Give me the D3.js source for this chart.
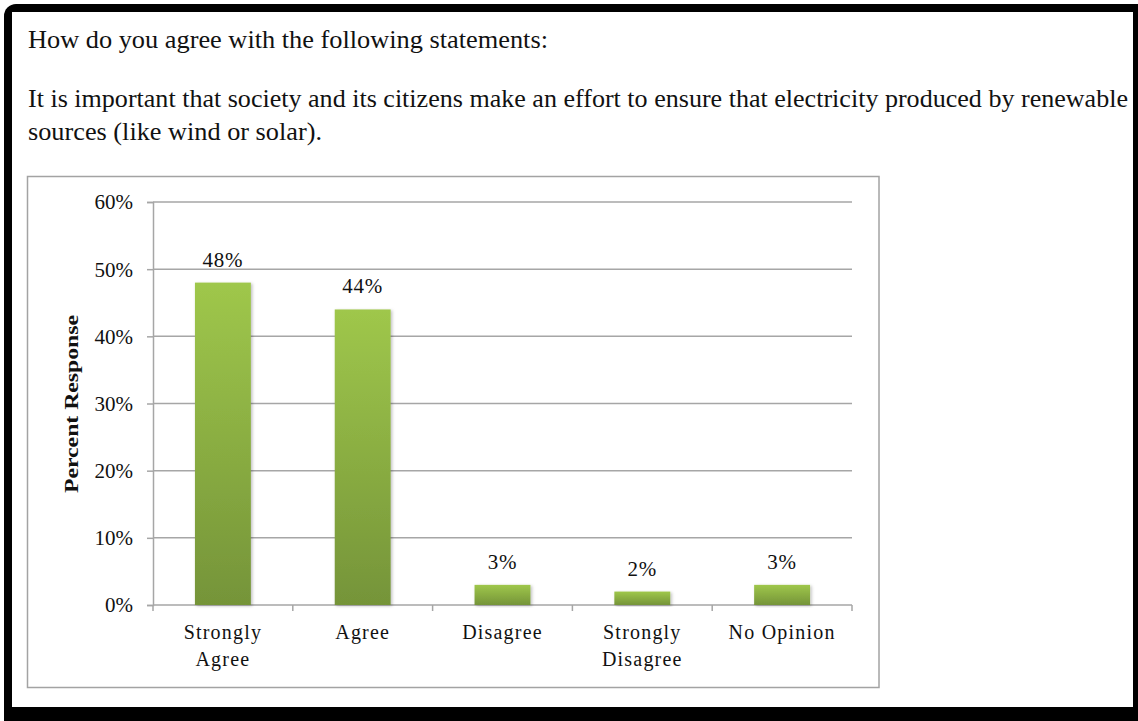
<!DOCTYPE html>
<html>
<head>
<meta charset="utf-8">
<script src="https://cdn.jsdelivr.net/npm/d3@7/dist/d3.min.js"></script>
<style>
  html, body { margin: 0; padding: 0; background: #fff; }
  svg { display: block; }
  text { font-family: "Liberation Serif", "Times New Roman", serif; fill: #111; }
</style>
</head>
<body>
<svg id="chart" width="1138" height="721"></svg>
<script>
// Survey responses (percent of respondents)
const categories = ["Strongly Agree", "Agree", "Disagree", "Strongly Disagree", "No Opinion"];
const categoryLines = [["Strongly", "Agree"], ["Agree"], ["Disagree"], ["Strongly", "Disagree"], ["No Opinion"]];
const responses = [48, 44, 3, 2, 3];
const yTicks = [0, 10, 20, 30, 40, 50, 60];
const headingLines = [
  "How do you agree with the following statements:",
  "It is important that society and its citizens make an effort to ensure that electricity produced by renewable",
  "sources (like wind or solar)."
];
const yTitle = "Percent Response";

const svg = d3.select("#chart");

// Frame: dark rounded border around the white page
svg.append("rect").attr("x", 4).attr("y", 4).attr("width", 1150).attr("height", 730)
  .attr("rx", 12).attr("fill", "#000");
svg.append("rect").attr("x", 12).attr("y", 12).attr("width", 1121).attr("height", 695)
  .attr("fill", "#fff");

// Heading text
const headY = [47.5, 107, 140];
const headW = [520, 1100, 294];
headingLines.forEach((t, i) => {
  svg.append("text")
    .attr("x", 28).attr("y", headY[i])
    .attr("font-size", 25)
    .attr("textLength", headW[i])
    .attr("lengthAdjust", "spacingAndGlyphs")
    .text(t);
});

// Chart box
svg.append("rect").attr("x", 27.5).attr("y", 176.5).attr("width", 851.5).attr("height", 511)
  .attr("fill", "#fff").attr("stroke", "#a3a3a3").attr("stroke-width", 1.5);

const defs = svg.append("defs");
const grad = defs.append("linearGradient").attr("id", "barFill")
  .attr("x1", 0).attr("y1", 0).attr("x2", 0).attr("y2", 1);
grad.append("stop").attr("offset", "0%").attr("stop-color", "#9fc74b");
grad.append("stop").attr("offset", "100%").attr("stop-color", "#759439");
const shadow = defs.append("filter").attr("id", "barShadow")
  .attr("x", "-20%").attr("y", "-5%").attr("width", "150%").attr("height", "115%");
shadow.append("feDropShadow").attr("dx", 1.5).attr("dy", 1).attr("stdDeviation", 1.5)
  .attr("flood-color", "#000").attr("flood-opacity", 0.25);

const plotLeft = 153, plotRight = 852, plotTop = 202, plotBottom = 605;

const x = d3.scaleBand().domain(categories).range([plotLeft, plotRight])
  .paddingInner(0.6).paddingOuter(0.3);
const y = d3.scaleLinear().domain([0, 60]).range([plotBottom, plotTop]);

const gridColor = "#a6a6a6";

// Horizontal gridlines
svg.append("g").selectAll("line").data(yTicks.filter(d => d > 0)).join("line")
  .attr("x1", plotLeft).attr("x2", plotRight)
  .attr("y1", d => y(d)).attr("y2", d => y(d))
  .attr("stroke", gridColor).attr("stroke-width", 1.5);

// Y axis
const yAxis = svg.append("g").attr("transform", `translate(${plotLeft},0)`)
  .call(d3.axisLeft(y).tickValues(yTicks).tickFormat(d => d + "%").tickSize(6).tickPadding(14));
yAxis.select(".domain").attr("stroke", gridColor).attr("stroke-width", 1.5);
yAxis.selectAll(".tick line").attr("stroke", gridColor).attr("stroke-width", 1.5);
yAxis.selectAll(".tick text")
  .attr("font-family", "'Liberation Serif', serif").attr("font-size", 21)
  .attr("fill", "#111").attr("dy", "0.33em");

// X axis baseline and category boundary ticks
const bounds = d3.range(categories.length + 1).map(i => plotLeft + i * (plotRight - plotLeft) / categories.length);
svg.append("line").attr("x1", plotLeft).attr("x2", plotRight)
  .attr("y1", plotBottom).attr("y2", plotBottom)
  .attr("stroke", gridColor).attr("stroke-width", 1.5);
svg.append("g").selectAll("line").data(bounds).join("line")
  .attr("x1", d => d).attr("x2", d => d)
  .attr("y1", plotBottom).attr("y2", plotBottom + 6)
  .attr("stroke", gridColor).attr("stroke-width", 1.5);

// Bars
svg.append("g").selectAll("rect").data(categories).join("rect")
  .attr("x", d => x(d)).attr("width", x.bandwidth())
  .attr("y", (d, i) => y(responses[i]))
  .attr("height", (d, i) => plotBottom - y(responses[i]))
  .attr("fill", "url(#barFill)")
  .attr("filter", "url(#barShadow)");

// Value labels
svg.append("g").selectAll("text").data(categories).join("text")
  .attr("x", d => x(d) + x.bandwidth() / 2)
  .attr("y", (d, i) => y(responses[i]) - 16)
  .attr("text-anchor", "middle")
  .attr("font-size", 21)
  .attr("letter-spacing", 0.8)
  .text((d, i) => responses[i] + "%");

// Category labels
const catG = svg.append("g").selectAll("text").data(categories).join("text")
  .attr("text-anchor", "middle")
  .attr("font-size", 20)
  .attr("letter-spacing", 1.2);
catG.each(function(d, i) {
  const t = d3.select(this);
  categoryLines[i].forEach((line, j) => {
    t.append("tspan")
      .attr("x", x(d) + x.bandwidth() / 2)
      .attr("y", 639 + j * 27)
      .text(line);
  });
});

// Y axis title
svg.append("text")
  .attr("transform", "translate(78,404) rotate(-90)")
  .attr("text-anchor", "middle")
  .attr("font-size", 19)
  .attr("font-weight", "bold")
  .attr("textLength", 178)
  .attr("lengthAdjust", "spacingAndGlyphs")
  .text(yTitle);
</script>
</body>
</html>
